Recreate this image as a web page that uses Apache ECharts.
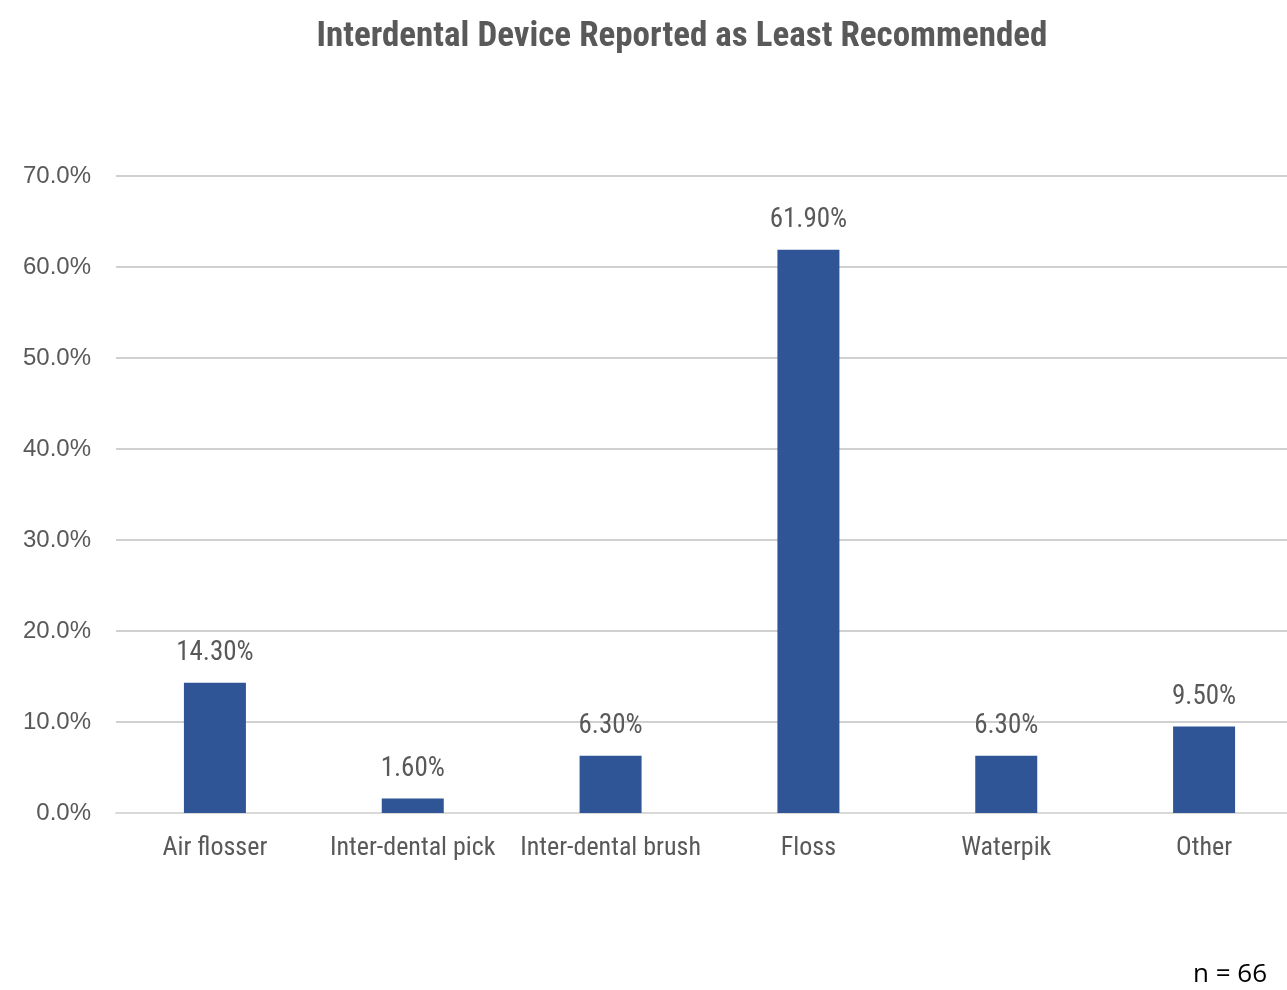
<!DOCTYPE html>
<html>
<head>
<meta charset="utf-8">
<script src="https://cdn.jsdelivr.net/npm/echarts@6/dist/echarts.min.js"></script>
<style>
html,body{margin:0;padding:0;background:#fff;overflow:hidden;}
#chart{width:1303px;height:990px;}
</style>
</head>
<body>
<div id="chart"></div>
<script>
const categories = ["Air flosser", "Inter-dental pick", "Inter-dental brush", "Floss", "Waterpik", "Other"];
const values = [14.3, 1.6, 6.3, 61.9, 6.3, 9.5];
const titleText = "Interdental Device Reported as Least Recommended";
const noteText = "n = 66";

const narrow = '"Liberation Sans Narrow", "Arial Narrow", "Roboto Condensed", sans-serif';
const chart = echarts.init(document.getElementById('chart'), null, {renderer: 'canvas'});
chart.setOption({
  backgroundColor: '#ffffff',
  animation: false,
  title: {
    text: titleText,
    left: 677, top: 15, textAlign: 'center',
    textStyle: {fontFamily: narrow, fontSize: 35, fontWeight: 'bold', color: '#595959'}
  },
  graphic: [{
    type: 'text', right: 36, top: 962,
    style: {text: noteText, fontFamily: '"Open Sans", "Liberation Sans", sans-serif', fontSize: 26, fill: '#000000'}
  }],
  grid: {left: 116, top: 176, right: 0, height: 637, containLabel: false},
  xAxis: {
    type: 'category', data: categories,
    axisLine: {show: true, lineStyle: {color: '#d9d9d9', width: 2}},
    axisTick: {show: false},
    axisLabel: {margin: 22, fontFamily: narrow, fontSize: 26, color: '#595959', interval: 0}
  },
  yAxis: {
    type: 'value', min: 0, max: 70, interval: 10,
    axisLine: {show: false}, axisTick: {show: false},
    splitLine: {lineStyle: {color: '#d0d0d0', width: 2}},
    axisLabel: {margin: 25, fontFamily: '"Liberation Sans", sans-serif', fontSize: 24, color: '#595959',
      formatter: v => v.toFixed(1) + '%'}
  },
  series: [{
    type: 'bar', data: values, barWidth: 62,
    itemStyle: {color: '#2f5597'},
    label: {show: true, position: 'top', distance: 16, fontFamily: narrow, fontSize: 27, color: '#595959',
      formatter: p => p.value.toFixed(2) + '%'}
  }]
});
</script>
</body>
</html>
